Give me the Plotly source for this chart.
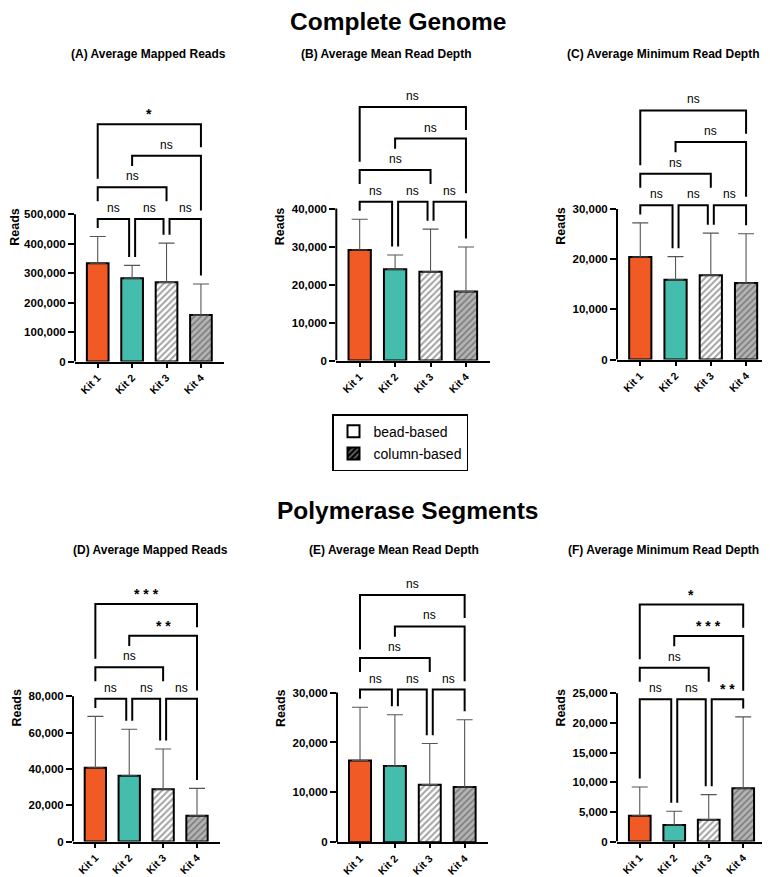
import plotly.graph_objects as go

W, H = 770, 877
FONT = "Liberation Sans, Arial, sans-serif"

# ---------------- data ----------------
kits = ["Kit 1", "Kit 2", "Kit 3", "Kit 4"]
legend_names = ["bead-based", "column-based"]
section_titles = ["Complete Genome", "Polymerase Segments"]
panel_titles = [
    "(A) Average Mapped Reads",
    "(B) Average Mean Read Depth",
    "(C) Average Minimum Read Depth",
    "(D) Average Mapped Reads",
    "(E) Average Mean Read Depth",
    "(F) Average Minimum Read Depth",
]
y_title = "Reads"

# mean and SD (upper error) per kit
genome_mapped_mean = [334000, 283000, 269000, 157700]
genome_mapped_sd = [90700, 43700, 133000, 105800]
genome_meandepth_mean = [29100, 24050, 23350, 18200]
genome_meandepth_sd = [8100, 3750, 11250, 11700]
genome_mindepth_mean = [20430, 15880, 16800, 15230]
genome_mindepth_sd = [6800, 4620, 8380, 9820]
pol_mapped_mean = [40630, 36250, 28770, 14200]
pol_mapped_sd = [28270, 25550, 22230, 15100]
pol_meandepth_mean = [16390, 15260, 11550, 11080]
pol_meandepth_sd = [10680, 10290, 8230, 13470]
pol_mindepth_mean = [4350, 2780, 3680, 8980]
pol_mindepth_sd = [4860, 2340, 4240, 12050]

# pairwise comparisons (kit index pairs) and their significance labels
comparisons = [(0, 1), (1, 2), (2, 3), (0, 2), (1, 3), (0, 3)]
comparison_tier = [0, 0, 0, 1, 2, 3]
sig_A = ["ns", "ns", "ns", "ns", "ns", "*"]
sig_B = ["ns", "ns", "ns", "ns", "ns", "ns"]
sig_C = ["ns", "ns", "ns", "ns", "ns", "ns"]
sig_D = ["ns", "ns", "ns", "ns", "**", "***"]
sig_E = ["ns", "ns", "ns", "ns", "ns", "ns"]
sig_F = ["ns", "ns", "**", "ns", "***", "*"]

axis_max = [500000, 40000, 30000, 80000, 30000, 25000]
axis_step = [100000, 10000, 10000, 20000, 10000, 5000]

means = [genome_mapped_mean, genome_meandepth_mean, genome_mindepth_mean,
         pol_mapped_mean, pol_meandepth_mean, pol_mindepth_mean]
sds = [genome_mapped_sd, genome_meandepth_sd, genome_mindepth_sd,
       pol_mapped_sd, pol_meandepth_sd, pol_mindepth_sd]
sigs = [sig_A, sig_B, sig_C, sig_D, sig_E, sig_F]

# ---------------- styles / layout ----------------
bar_colors = ["#F15A24", "#45BDAD", "white", "#b4b4b4"]
pattern_shapes = ["", "", "/", "/"]
pattern_fg = ["black", "black", "#000000", "#4a4a4a"]
pattern_bg = ["#F15A24", "#45BDAD", "white", "#d4d4d4"]
pattern_solid = [0.3, 0.3, 0.45, 0.38]

# panel pixel geometry: x left, x right, y of zero, y of top tick
PANEL_PX = [(67, 216, 356, 207.7), (328.3, 481.7, 355, 202), (609, 761.7, 354, 202.3),
            (65, 211.7, 839.3, 693), (329, 480, 840, 689.3), (609, 758.3, 839.3, 690)]
DOMAIN_TOP_PX = [85, 85, 85, 570, 570, 570]
X_RANGE = [-0.66, 3.67]
BAR_W = 0.63
TIER_GAP_PX = 31.8
FIRST_GAP_PX = 17.7
LEG_GAP_PX = 8.5
LABEL_H_PX = 13
LABEL_ROW_PX = 9.2
SHARED_SHIFT_PX = 3

title_pos = [(140, 46), (378, 46), (655, 46), (142, 546), (386, 546), (655, 546)]
section_pos = [(390, 14), (399, 506)]

fig = go.Figure()
shapes = []
annotations = []
layout_axes = {}

for i in range(6):
    n = "" if i == 0 else str(i + 1)
    xa, ya = "x" + n, "y" + n
    x0p, x1p, ybp, ytp = PANEL_PX[i]
    k = (ybp - ytp) / axis_max[i]            # px per data unit
    ppx = (x1p - x0p) / (X_RANGE[1] - X_RANGE[0])  # px per category
    ymax = (ybp - DOMAIN_TOP_PX[i]) / k

    fig.add_trace(go.Bar(
        x=list(range(4)), y=means[i], xaxis=xa, yaxis=ya, width=BAR_W,
        showlegend=False, hoverinfo="skip",
        marker=dict(color=bar_colors, line=dict(color="black", width=2),
                    pattern=dict(shape=pattern_shapes, fgcolor=pattern_fg,
                                 bgcolor=pattern_bg, size=4.5, solidity=pattern_solid)),
        error_y=dict(type="data", symmetric=False, array=sds[i],
                     arrayminus=[0] * 4, color="#555555", thickness=1.1, width=8),
    ))

    layout_axes["xaxis" + n] = dict(
        domain=[x0p / W, x1p / W], anchor=ya, range=X_RANGE,
        tickvals=list(range(4)), ticktext=kits, tickangle=-45,
        ticks="outside", ticklen=4, tickwidth=2, tickcolor="black",
        showline=True, linewidth=2, linecolor="black", showgrid=False, zeroline=False,
        tickfont=dict(family=FONT, size=10.5, color="black", weight="bold"),
    )
    tv = list(range(0, axis_max[i] + 1, axis_step[i]))
    layout_axes["yaxis" + n] = dict(
        domain=[1 - ybp / H, 1 - DOMAIN_TOP_PX[i] / H], anchor=xa, range=[0, ymax],
        tickvals=tv, ticktext=[f"{v:,}" for v in tv],
        ticks="outside", ticklen=6, tickwidth=2, tickcolor="black",
        showline=False, showgrid=False, zeroline=False,
        tickfont=dict(family=FONT, size=11.5, color="black", weight="bold"),
        title=dict(text=y_title, standoff=4,
                   font=dict(family=FONT, size=12.5, color="black", weight="bold")),
    )
    # y axis line only up to top tick
    shapes.append(dict(type="line", xref=xa + " domain", x0=0, x1=0, yref=ya,
                       y0=0, y1=axis_max[i], line=dict(color="black", width=2)))

    # ----- significance brackets (computed in px, converted to data) -----
    tops = [(m + s) * k for m, s in zip(means[i], sds[i])]
    objects = [(j - 0.32, j + 0.32, tops[j], None) for j in range(4)]
    base = max(tops) + FIRST_GAP_PX
    for t in range(4):
        new_objs = []
        idx = [c for c in range(len(comparisons)) if comparison_tier[c] == t]
        for c in idx:
            a, b = comparisons[c]
            level = base + t * TIER_GAP_PX
            xa_leg, xb_leg = float(a), float(b)
            others = [comparisons[o] for o in idx if o != c]
            if any(o[1] == a for o in others):
                xa_leg += SHARED_SHIFT_PX / ppx
            if any(o[0] == b for o in others):
                xb_leg -= SHARED_SHIFT_PX / ppx

            def bottom(x):
                hs = [h for lo, hi, h, only in objects
                      if lo - 1e-6 <= x <= hi + 1e-6 and (only is None or only == t)]
                return max(hs) + LEG_GAP_PX

            ba, bb = bottom(xa_leg), bottom(xb_leg)
            path = (f"M {xa_leg},{ba / k} L {xa_leg},{level / k} "
                    f"L {xb_leg},{level / k} L {xb_leg},{bb / k}")
            shapes.append(dict(type="path", path=path, xref=xa, yref=ya,
                               line=dict(color="black", width=2)))
            lab = sigs[i][c]
            is_star = lab.startswith("*")
            annotations.append(dict(
                x=(xa_leg + xb_leg) / 2, y=level / k, xref=xa, yref=ya,
                text=" ".join(lab) if is_star else lab, showarrow=False,
                yanchor="bottom", yshift=0 if is_star else 2,
                font=dict(family=FONT, size=14 if is_star else 12, color="black",
                          weight="bold" if is_star else "normal"),
            ))
            cx = (xa_leg + xb_leg) / 2
            new_objs.append((xa_leg, xb_leg, level, None))
            new_objs.append((cx - 0.25, cx + 0.25, level + LABEL_H_PX, None))
            if t == 0:
                # label row of the first tier is cleared by the next tier
                new_objs.append((xa_leg - 0.15, xb_leg + 0.15, level + LABEL_ROW_PX, 1))
        objects.extend(new_objs)

    tx, ty = title_pos[i]
    annotations.append(dict(x=tx / W, y=1 - ty / H, xref="paper", yref="paper",
                            text=panel_titles[i], showarrow=False,
                            xanchor="center", yanchor="middle",
                            font=dict(family=FONT, size=12, color="black", weight="bold")))

for s, (sx, sy) in zip(section_titles, section_pos):
    annotations.append(dict(x=sx / W, y=1 - sy / H, xref="paper", yref="paper",
                            text=s, showarrow=False, xanchor="center", yanchor="middle",
                            font=dict(family=FONT, size=24.5, color="black", weight="bold")))

# legend entries
fig.add_trace(go.Bar(x=[None], y=[None], name=legend_names[0], legendgroup="a",
                     marker=dict(color="white", line=dict(color="black", width=2))))
fig.add_trace(go.Bar(x=[None], y=[None], name=legend_names[1], legendgroup="b",
                     marker=dict(color="black", line=dict(color="black", width=2),
                                 pattern=dict(shape="/", fgcolor="white", bgcolor="black",
                                              size=5, solidity=0.35))))

fig.update_layout(
    width=W, height=H, margin=dict(l=0, r=0, t=0, b=0),
    paper_bgcolor="white", plot_bgcolor="white", barmode="overlay",
    font=dict(family=FONT, color="black"),
    shapes=shapes, annotations=annotations,
    legend=dict(x=392 / W, y=1 - 409 / H, xanchor="center", yanchor="top",
                bordercolor="black", borderwidth=1.5, tracegroupgap=1,
                font=dict(family=FONT, size=14, color="black")),
    **layout_axes,
)

fig.write_html("out.html")
